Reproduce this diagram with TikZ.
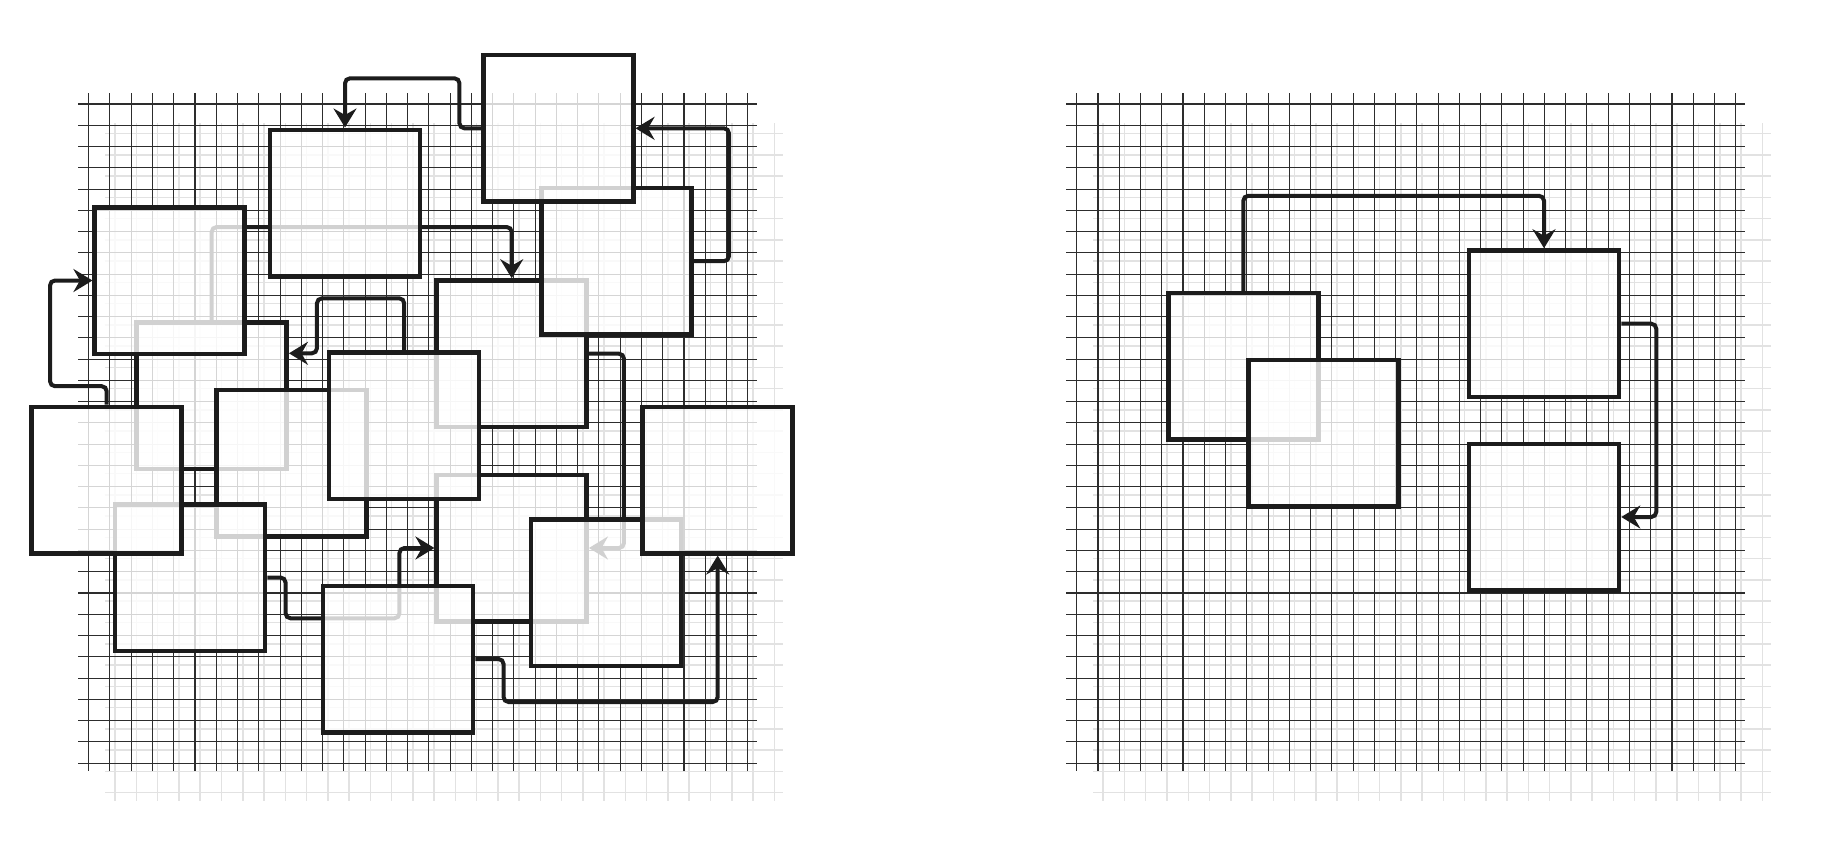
\documentclass[tikz,border=0pt]{standalone}
\usepackage{tikz}
\usetikzlibrary{arrows.meta,calc}

\definecolor{inkcol}{RGB}{28,28,28}
\definecolor{gridcol}{RGB}{45,45,45}
\definecolor{shadecol}{RGB}{226,226,226}

\begin{document}
\begin{tikzpicture}[
  x=1pt,
  y=-1pt,
  >={Stealth[length=19pt,width=23pt,inset=6.5pt]},
  frame/.style={
    draw=inkcol,
    line width=4.5pt,
    fill=white,
    fill opacity=0.8,
    inner sep=0pt,
    minimum width=150pt,
    minimum height=146.5pt
  },
  link/.style={
    ->,
    draw=inkcol,
    line width=4pt,
    rounded corners=5pt
  },
  darkgrid/.style={
    draw=gridcol,
    line width=1.05pt
  },
  lightgrid/.style={
    draw=shadecol,
    line width=1.5pt
  }
]

\useasboundingbox (0,0) rectangle (1830,865);

% Two grids, each with a light offset copy underneath
\foreach \px in {0,988}{
  \foreach \dx/\dy/\gstyle in {26.5/29.5/lightgrid, 0/0/darkgrid}{
    \foreach \k in {0,...,31}{
      \draw[\gstyle] ({88.7+\px+\dx+21.26*\k},{93.3+\dy}) -- ++(0,677.7);
      \draw[\gstyle] ({78.3+\px+\dx},{104+\dy+21.26*\k}) -- ++(678.4,0);
    }
  }
}

% Left panel, back to front
\node[frame] (centre) at (511.7,353.7) {};
\node[frame] (hidden) at (211.7,395.8) {};
\draw[link] (hidden.north) -- ++(0,-93.3) -| (centre.north);

\node[frame] (upper) at (345,203) {};
\node[frame] (leftup) at (169.7,280.5) {};
\node[frame] (nearright) at (616.7,261.2) {};
\node[frame] (peak) at (558.3,128.3) {};
\node[frame] (lowmid) at (291.7,463.3) {};
\node[frame] (lowleft) at (190,577.5) {};
\node[frame] (farleft) at (106.7,480) {};
\node[frame] (inner) at (511.7,548) {};
\node[frame] (middle) at (404.2,425.5) {};

\draw[link] (lowleft.east) -- ++(18.3,0) |- ($(inner.west)+(-35,70.3)$) |- (inner.west);
\node[frame] (bottom) at (398,659) {};

\draw[link] (centre.east) -- ++(35,0) |- (inner.east);
\node[frame] (lowright) at (606,592.5) {};
\node[frame] (farright) at (717.7,480) {};

% Connectors lying on top
\draw[link] (peak.west) -- ++(-21.6,0) -- ++(0,-50) -| (upper.north);
\draw[link] (nearright.east) -- ++(35,0) |- (peak.east);
\draw[link] (middle.north) -- ++(0,-51.7)
  -| ($(hidden.east)+(28,-42.5)$) -- ($(hidden.east)+(0,-42.5)$);
\draw[link] (farleft.north) -- ++(0,-18.3) -- ++(-56.7,0) |- (leftup.west);
\draw[link] (bottom.east) -- ++(28.3,0) -- ++(0,43) -| (farright.south);

% Right panel
\node[frame] (pairback) at (1243.3,366.3) {};
\node[frame] (pairfront) at (1323.7,433.3) {};
\node[frame] (upperright) at (1544,323.7) {};
\node[frame] (lowerright) at (1544,517) {};

\draw[link] (pairback.north) -- ++(0,-95) -| (upperright.north);
\draw[link] (upperright.east) -- ++(35,0) |- (lowerright.east);

\end{tikzpicture}
\end{document}
